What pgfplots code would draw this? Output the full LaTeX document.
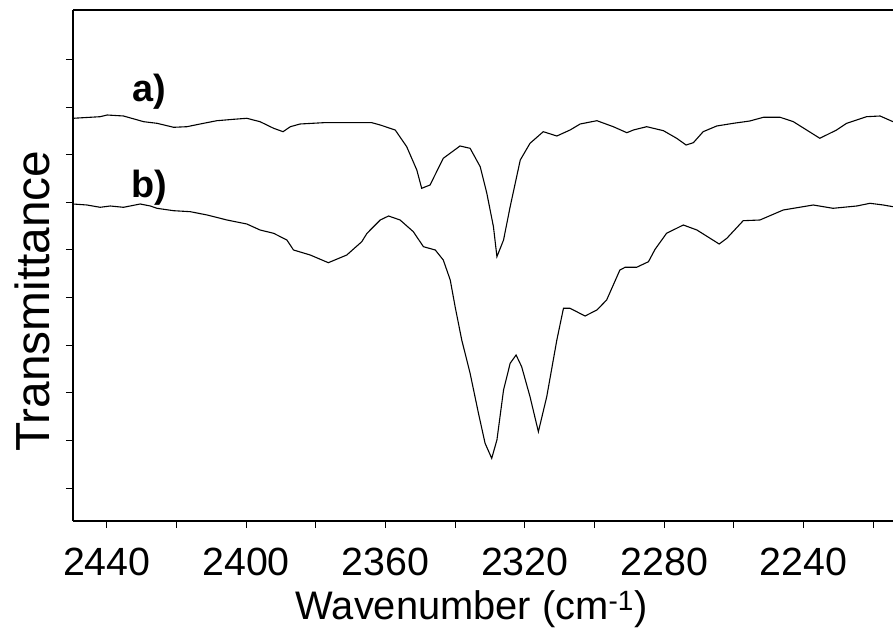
\documentclass[border=0pt]{standalone}
\usepackage{fontspec}
\setmainfont{Liberation Sans}
\usepackage{pgfplots}
\pgfplotsset{compat=1.18}
\usepackage{pgfplotstable}

% spectrum a): wavenumber (cm^-1) vs. transmittance (arbitrary offset units)
\pgfplotstableread{
wn T
2449.7 402.7
2441.9 404.3
2439.9 406.0
2435.2 405.0
2429.4 399.3
2425.6 397.7
2420.8 393.7
2417.0 394.3
2413.2 397.0
2408.4 400.3
2403.6 401.7
2399.8 402.7
2396.0 399.3
2392.1 392.7
2389.4 389.3
2387.3 394.3
2384.5 397.0
2377.8 398.3
2371.1 398.3
2363.9 398.3
2361.5 396.0
2357.2 391.0
2353.9 374.3
2351.0 351.0
2349.6 332.7
2347.2 336.0
2343.4 362.7
2338.6 375.0
2335.7 372.7
2332.8 354.3
2330.9 327.7
2329.0 294.3
2328.0 264.3
2326.1 281.0
2324.2 314.3
2321.3 361.0
2318.5 377.7
2314.7 389.3
2310.8 385.0
2307.0 391.0
2304.1 397.0
2299.3 400.3
2294.6 394.3
2290.7 388.3
2288.8 391.0
2285.0 394.3
2280.2 390.3
2276.4 382.7
2273.7 376.0
2271.6 378.3
2268.8 389.3
2264.9 395.0
2260.1 397.7
2255.4 400.0
2251.5 403.7
2246.7 403.7
2242.9 399.3
2239.1 391.0
2235.3 382.7
2230.5 391.0
2227.6 397.7
2221.9 404.3
2218.0 405.0
2214.3 399.3
}\spectrumA

% spectrum b)
\pgfplotstableread{
wn T
2449.7 317.0
2445.7 316.0
2441.9 313.7
2439.0 315.0
2435.2 313.7
2430.4 317.0
2427.5 315.0
2425.6 312.7
2420.8 310.3
2416.0 309.3
2411.2 306.0
2405.5 301.0
2399.8 297.0
2396.0 291.0
2392.1 287.7
2388.3 281.0
2386.4 271.0
2381.6 266.0
2376.4 258.3
2371.1 266.0
2366.8 279.3
2365.3 287.7
2361.5 301.0
2359.1 305.0
2355.8 301.0
2352.0 289.3
2349.1 274.3
2345.7 271.0
2343.4 261.0
2341.4 241.0
2340.0 214.3
2338.1 181.0
2335.7 147.7
2333.3 107.7
2331.4 77.7
2329.5 62.7
2328.0 81.0
2326.1 131.0
2324.2 157.7
2322.5 166.0
2320.9 154.3
2318.5 124.3
2316.1 89.3
2313.7 124.3
2310.8 181.0
2308.9 212.7
2307.0 212.7
2302.7 205.0
2299.3 211.0
2296.5 221.0
2292.7 251.0
2291.2 253.7
2287.9 253.7
2284.5 259.3
2282.6 271.7
2279.3 287.7
2274.5 296.0
2270.6 291.0
2266.8 282.7
2264.2 277.0
2262.0 282.7
2257.3 300.3
2252.5 301.0
2245.8 311.0
2237.2 316.0
2231.5 312.7
2224.7 315.0
2220.9 317.7
2217.1 316.0
2214.3 314.3
}\spectrumB

\begin{document}
\begin{tikzpicture}
\useasboundingbox (-73bp,-114bp) rectangle (820bp,521bp);
\begin{axis}[
  scale only axis,
  width=820bp, height=511bp,
  at={(0,0)}, anchor=south west,
  x dir=reverse,
  xmin=2214.3, xmax=2449.7,
  ymin=0, ymax=511,
  axis x line=box,
  axis y line=left,
  axis line style={-, line width=1.2bp, black},
  xtick pos=bottom, ytick pos=left,
  tick align=outside,
  major tick length=7bp, minor tick length=7bp,
  every tick/.style={black, line width=1bp},
  xtick={2240,2280,2320,2360,2400,2440},
  minor xtick={2220,2260,2300,2340,2380,2420},
  ytick={33,80.6,128.2,175.8,223.4,271,318.6,366.2,413.8,461.4},
  yticklabels={},
  /pgf/number format/assume math mode=true,
  /pgf/number format/1000 sep={},
  xticklabel style={font=\fontsize{39.5}{44}\selectfont, yshift=-16bp},
  xlabel={Wavenumber (cm\textsuperscript{-1})},
  xlabel style={font=\fontsize{40}{46}\selectfont, at={(axis description cs:0.486,0)}, anchor=north, yshift=-66bp},
  ylabel={Transmittance},
  ylabel style={font=\fontsize{48}{54}\selectfont, at={(axis description cs:0,0.43)}, anchor=south, yshift=20bp},
]
\addplot[black, line width=1.1bp] table[x=wn, y=T] {\spectrumA};
\addplot[black, line width=1.1bp] table[x=wn, y=T] {\spectrumB};
\node[font=\bfseries\fontsize{38}{42}\selectfont] at (axis cs:2427.8,429) {a)};
\node[font=\bfseries\fontsize{38}{42}\selectfont] at (axis cs:2427.8,333) {b)};
\end{axis}
\end{tikzpicture}
\end{document}
